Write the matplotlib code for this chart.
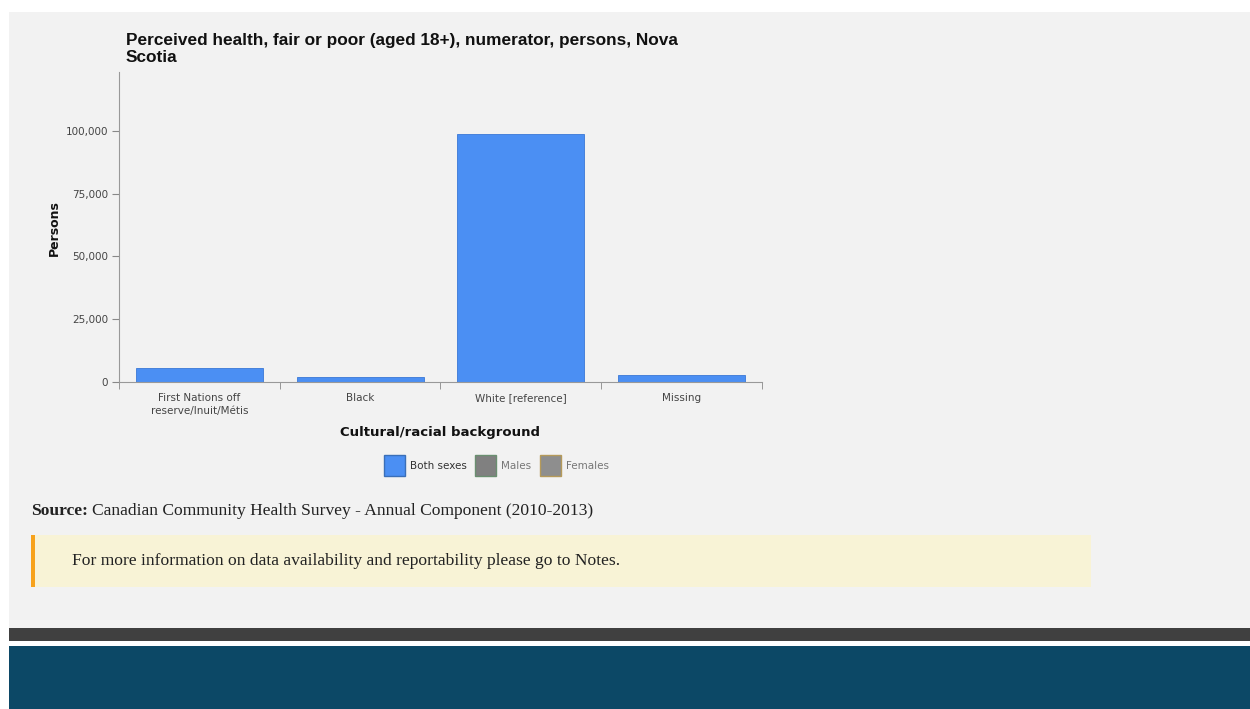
import matplotlib
matplotlib.use("Agg")
import matplotlib.pyplot as plt
from matplotlib.patches import Rectangle

categories = ["First Nations off\nreserve/Inuit/Métis", "Black", "White [reference]", "Missing"]
both_sexes = [5600, 2100, 98800, 2600]
legend_labels = ["Both sexes", "Males", "Females"]

W, H = 1250, 709
fig = plt.figure(figsize=(W / 100, H / 100), dpi=100)
fig.patch.set_facecolor("white")


def fx(x):
    return x / W


def fy(y):
    return 1 - y / H


def box(x0, y0, x1, y1, color, z=-1):
    fig.patches.append(Rectangle((fx(x0), fy(y1)), fx(x1 - x0), fy(y0) - fy(y1),
                                 transform=fig.transFigure, facecolor=color,
                                 edgecolor="none", zorder=z))


# page panels
box(9, 12, 1250, 628, "#f2f2f2")
box(9, 628, 1250, 641, "#404040")
box(9, 646, 1250, 709, "#0c4866")

ax = fig.add_axes([fx(119), fy(382), fx(762 - 119), fy(72) - fy(382)])
ax.set_zorder(2)
ax.set_facecolor("#f2f2f2")
x = list(range(len(categories)))
ax.bar(x, both_sexes, width=0.79, color="#4b8ff3", edgecolor="#3a78d6", linewidth=0.6, zorder=2)
ax.set_xlim(-0.5, len(categories) - 0.5)
ax.set_ylim(0, 123500)
ax.set_yticks([0, 25000, 50000, 75000, 100000])
ax.set_yticklabels(["0", "25,000", "50,000", "75,000", "100,000"])
ax.set_xticks(x)
ax.set_xticklabels(categories, linespacing=1.35)
ax.set_xticks([i - 0.5 for i in range(len(categories) + 1)], minor=True)
ax.tick_params(axis="x", which="major", length=0, pad=8, labelsize=7.5, colors="#444444")
ax.tick_params(axis="x", which="minor", length=5, color="#888888")
ax.tick_params(axis="y", length=5, color="#888888", labelsize=7.5, labelcolor="#444444", pad=3)
for s in ["top", "right"]:
    ax.spines[s].set_visible(False)
for s in ["left", "bottom"]:
    ax.spines[s].set_color("#999999")
    ax.spines[s].set_linewidth(0.8)

ax.set_xlabel("Cultural/racial background", fontsize=9.5, fontweight="bold", labelpad=7, color="#111111")
fig.text(fx(54), fy(228), "Persons", rotation=90, ha="center", va="center",
         fontsize=9, fontweight="bold", color="#111111")

fig.text(fx(126), fy(41), "Perceived health, fair or poor (aged 18+), numerator, persons, Nova",
         fontsize=12.4, fontweight="bold", family="Liberation Sans", va="center", color="#111111")
fig.text(fx(126), fy(57), "Scotia",
         fontsize=12.4, fontweight="bold", family="Liberation Sans", va="center", color="#111111")

# legend
leg = [(384, "#4b8ff3", "#3a6fb8", "#333333"),
       (475, "#808080", "#6a8f70", "#777777"),
       (540, "#8e8e8e", "#b59a5a", "#777777")]
for (lx, fc, ec, tc), lab in zip(leg, legend_labels):
    fig.patches.append(Rectangle((fx(lx), fy(476)), fx(21), fy(455) - fy(476),
                                 transform=fig.transFigure, facecolor=fc,
                                 edgecolor=ec, linewidth=1, zorder=3))
    fig.text(fx(lx + 26), fy(466), lab, fontsize=7.5, va="center", color=tc)

# source
fig.text(fx(31), fy(511), "Source:", fontsize=12.6, family="Liberation Serif",
         fontweight="bold", va="center", color="#222222")
fig.text(fx(92), fy(511), "Canadian Community Health Survey - Annual Component (2010-2013)",
         fontsize=12.6, family="Liberation Serif", va="center", color="#222222")

# note box
box(31, 535, 1091, 587, "#f8f3d6", z=0)
box(31, 535, 35, 587, "#f7a21b", z=0)
fig.text(fx(72), fy(561), "For more information on data availability and reportability please go to Notes.",
         fontsize=12.6, family="Liberation Serif", va="center", color="#222222")

fig.savefig("out.png", dpi=100, facecolor=fig.get_facecolor())
